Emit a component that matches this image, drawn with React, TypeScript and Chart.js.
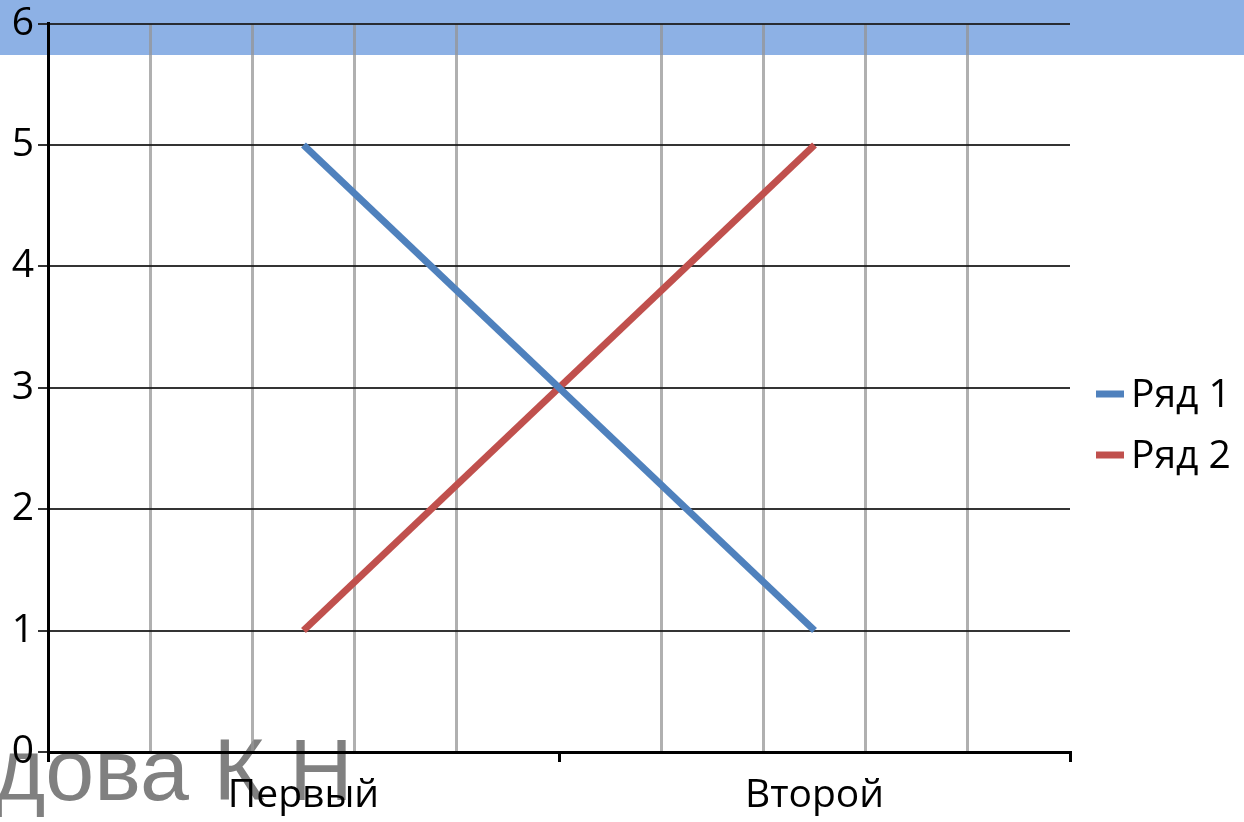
import { useEffect, useRef } from "react";
import { Chart, registerables } from "chart.js";

Chart.register(...registerables);

const categories = ["Первый", "Второй"];
const seriesNames = ["Ряд 1", "Ряд 2"];
const series1 = [5, 1];
const series2 = [1, 5];
const yMin = 0;
const yMax = 6;
const yStep = 1;
const minorDivisions = 10;
const watermark = "дова К Н";

const BLUE = "#4F81BD";
const RED = "#C0504D";
const FONT = "'Open Sans', 'Noto Sans', sans-serif";
const FONT_SIZE = 39;

const legendPlugin = {
  id: "sideLegend",
  afterDraw(chart: any) {
    const ctx = chart.ctx;
    const x0 = 1096;
    const y0 = 394;
    const gap = 61;
    ctx.save();
    chart.data.datasets.forEach((ds: any, i: number) => {
      const y = y0 + i * gap;
      ctx.strokeStyle = ds.borderColor;
      ctx.lineWidth = 7;
      ctx.lineCap = "butt";
      ctx.beginPath();
      ctx.moveTo(x0, y);
      ctx.lineTo(x0 + 28, y);
      ctx.stroke();
      ctx.fillStyle = "#000";
      ctx.font = `${FONT_SIZE}px ${FONT}`;
      ctx.textBaseline = "middle";
      ctx.textAlign = "left";
      ctx.fillText(ds.label, x0 + 35, y + 2);
    });
    ctx.restore();
  },
};

export default function App() {
  const ref = useRef<HTMLCanvasElement | null>(null);

  useEffect(() => {
    if (!ref.current) return;
    const chart = new Chart(ref.current, {
      type: "line",
      data: {
        labels: categories,
        datasets: [
          {
            label: seriesNames[0],
            data: series1,
            borderColor: BLUE,
            backgroundColor: BLUE,
            borderWidth: 7,
            pointRadius: 0,
            tension: 0,
            xAxisID: "x",
          },
          {
            label: seriesNames[1],
            data: series2,
            borderColor: RED,
            backgroundColor: RED,
            borderWidth: 7,
            pointRadius: 0,
            tension: 0,
            xAxisID: "x",
          },
        ],
      },
      options: {
        animation: false,
        responsive: false,
        maintainAspectRatio: false,
        layout: { padding: { top: 23, right: 174, left: 0, bottom: 0 } },
        plugins: {
          legend: { display: false },
          tooltip: { enabled: false },
        },
        scales: {
          x: {
            type: "category",
            position: "bottom",
            offset: true,
            grid: {
              offset: true,
              drawOnChartArea: false,
              drawTicks: true,
              tickLength: 10,
              color: "#000",
              lineWidth: 3,
            },
            border: { display: true, color: "#000", width: 3 },
            ticks: {
              color: "#000",
              font: { size: FONT_SIZE, family: FONT },
              padding: 10,
              maxRotation: 0,
            },
            afterFit: (s: any) => {
              s.height = 70;
            },
          },
          x2: {
            type: "linear",
            position: "top",
            min: 0,
            max: minorDivisions,
            ticks: { display: false, stepSize: 1 },
            border: { display: false },
            grid: {
              drawTicks: false,
              lineWidth: 3,
              color: (c: any) =>
                c.tick && c.tick.value % (minorDivisions / 2) === 0
                  ? "rgba(0,0,0,0)"
                  : "rgba(150,150,150,0.75)",
            },
            afterFit: (s: any) => {
              s.height = 0;
            },
          },
          y: {
            type: "linear",
            min: yMin,
            max: yMax,
            ticks: {
              stepSize: yStep,
              color: "#000",
              font: { size: FONT_SIZE, family: FONT, lineHeight: 1 },
              padding: 4,
            },
            grid: {
              color: "rgba(30,30,30,0.9)",
              lineWidth: 2,
              tickLength: 10,
            },
            border: { display: true, color: "#000", width: 3 },
            afterFit: (s: any) => {
              s.width = 48;
            },
          },
        },
      },
      plugins: [legendPlugin],
    } as any);
    return () => chart.destroy();
  }, []);

  return (
    <div
      style={{
        position: "absolute",
        left: 0,
        top: 0,
        width: 1244,
        height: 822,
        overflow: "hidden",
        background: "#fff",
      }}
    >
      <div
        style={{
          position: "absolute",
          left: 0,
          top: 0,
          width: 1244,
          height: 55,
          background: "#8DB1E5",
        }}
      />
      <div
        style={{
          position: "absolute",
          left: -6,
          top: 720,
          fontFamily: "'Liberation Sans', Arial, sans-serif",
          fontSize: 88,
          lineHeight: "100px",
          color: "#808080",
          whiteSpace: "nowrap",
        }}
      >
        {watermark}
      </div>
      <canvas
        ref={ref}
        width={1244}
        height={822}
        style={{ position: "absolute", left: 0, top: 0, width: 1244, height: 822 }}
      />
    </div>
  );
}
